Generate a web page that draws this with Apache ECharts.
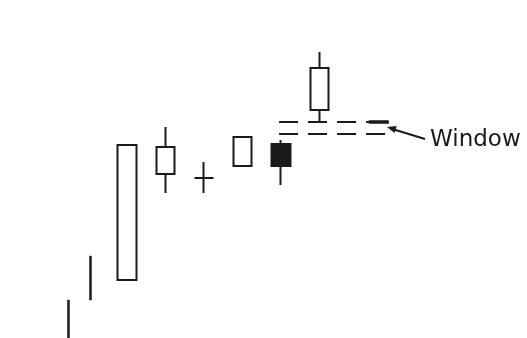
<!DOCTYPE html>
<html>
<head>
<meta charset="utf-8">
<script src="https://cdn.jsdelivr.net/npm/echarts@6/dist/echarts.min.js"></script>
<style>
  html, body { margin: 0; padding: 0; background: #fff; }
  #chart { width: 527px; height: 338px; }
</style>
</head>
<body>
<div id="chart"></div>
<script>
// candle positions (time units) and prices
const candleX = [2, 3, 4, 5, 6, 7];
const opens   = [58, 164, 160, 172, 194, 228];
const closes  = [193, 191, 160, 201, 172, 270];
const lows    = [58, 145, 145, 172, 153, 216];
const highs   = [193, 211, 176, 201, 198, 286];

// the two thin bars at the left (no visible body)
const stickX    = [0.47, 1.04];
const stickLow  = [-10, 38];
const stickHigh = [38, 82];

// window between candle 7 and candle 8
const windowTop = 216;
const windowBottom = 204;
const windowStart = 5.95;
const windowEnd = 8.8;

const ink = '#1a1a1a';

const candleData = candleX.map((x, i) => [x, opens[i], closes[i], lows[i], highs[i]]);
const stickData = stickX.map((x, i) => [x, stickLow[i], stickHigh[i], stickLow[i], stickHigh[i]]);

const chart = echarts.init(document.getElementById('chart'));

const dash = { type: [19, 10], width: 2, color: ink };

const option = {
  animation: false,
  backgroundColor: '#fff',
  grid: { left: 50, right: 15, top: 0, bottom: 0 },
  xAxis: { type: 'value', min: 0, max: 12, show: false },
  yAxis: { type: 'value', min: 0, max: 338, show: false },
  series: [
    {
      type: 'candlestick',
      clip: true,
      barWidth: 2.5,
      encode: { x: 0, y: [1, 2, 3, 4] },
      data: stickData,
      itemStyle: { color: ink, color0: ink, borderColor: ink, borderColor0: ink, borderWidth: 0.5 }
    },
    {
      type: 'candlestick',
      clip: true,
      barWidth: 19,
      encode: { x: 0, y: [1, 2, 3, 4] },
      data: candleData,
      itemStyle: { color: '#fff', color0: ink, borderColor: ink, borderColor0: ink, borderWidth: 2 },
      markLine: {
        silent: true,
        symbol: ['none', 'none'],
        label: { show: false },
        data: [
          [{ coord: [windowStart, windowTop], lineStyle: dash }, { coord: [windowEnd, windowTop] }],
          [{ coord: [windowStart, windowBottom], lineStyle: dash }, { coord: [windowEnd, windowBottom] }],
          [{ coord: [windowEnd - 0.52, windowTop], lineStyle: { type: 'solid', width: 3.5, color: ink } }, { coord: [windowEnd, windowTop] }]
        ]
      }
    }
  ],
  graphic: [
    {
      type: 'line',
      shape: { x1: 425, y1: 139, x2: 394, y2: 129.5 },
      style: { stroke: ink, lineWidth: 2 }
    },
    {
      type: 'polygon',
      shape: { points: [[387, 127], [396.6, 126], [394.6, 133]] },
      style: { fill: ink }
    },
    {
      type: 'text',
      left: 430,
      top: 129,
      style: { text: 'Window', font: '23px "DejaVu Sans"', fill: ink }
    }
  ]
};

chart.setOption(option);
</script>
</body>
</html>
